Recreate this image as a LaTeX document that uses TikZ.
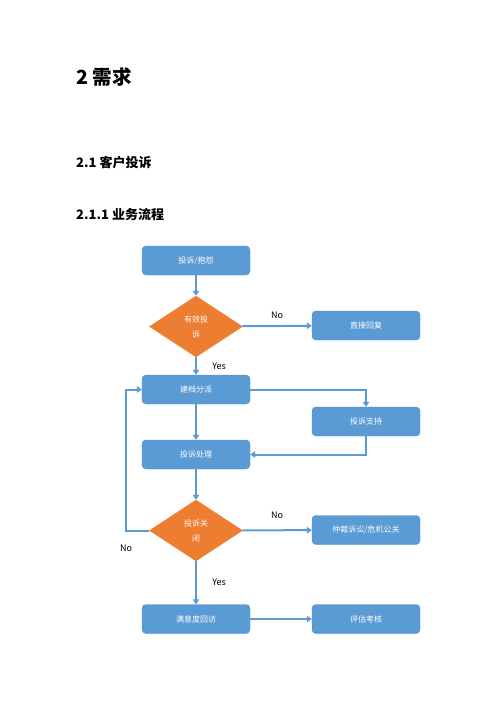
\documentclass[tikz,border=0pt]{standalone}
\usepackage{fontspec}
\setmainfont{Noto Sans CJK SC}
\usepackage{xcolor}
\usetikzlibrary{arrows.meta, positioning, shapes.geometric}

\definecolor{boxblue}{HTML}{5B9BD5}
\definecolor{boxedge}{HTML}{4F8CC4}
\definecolor{diaorange}{HTML}{ED7D31}

\begin{document}
\begin{tikzpicture}[x=1pt, y=-1pt,
    box/.style={draw=boxedge, fill=boxblue, rounded corners=4pt, minimum width=108pt, minimum height=29pt, text=white, font=\fontsize{8}{10}\selectfont},
    decision/.style={diamond, draw=diaorange, fill=diaorange, minimum width=93pt, minimum height=61pt, inner sep=0pt, text=white, align=center, font=\fontsize{8}{15}\selectfont},
    flow/.style={->, draw=boxblue, line width=2pt},
    lbl/.style={font=\fontsize{9}{10}\selectfont, text=black},
    >={Triangle[length=5pt, width=6.5pt]}]
      \useasboundingbox (0,0) rectangle (500,706);

      % headings
      \node[anchor=west, inner sep=0pt, font=\fontsize{19.5}{22}\selectfont\bfseries] (h1) at (76,77) {2 需求};
      \node[anchor=west, inner sep=0pt, font=\fontsize{13}{16}\selectfont\bfseries] (h2) at (76,163) {2.1 客户投诉};
      \node[anchor=west, inner sep=0pt, font=\fontsize{13}{16}\selectfont\bfseries] (h3) at (76,215) {2.1.1 业务流程};

      % flow chart
      \node[box] (b1) at (196,260.5) {投诉/抱怨};
      \node[decision] (d1) at (196,326.5) {有效投\\诉};
      \node[box] (b2) at (366,325.5) {直接回复};
      \node[box] (b3) at (196,389.5) {建档分派};
      \node[box] (b4) at (366,421.5) {投诉支持};
      \node[box] (b5) at (196,454.5) {投诉处理};
      \node[decision] (d2) at (196,530.5) {投诉关\\闭};
      \node[box] (b6) at (366,530) {仲裁诉讼/危机公关};
      \node[box] (b7) at (196,619) {满意度回访};
      \node[box] (b8) at (366,619) {评估考核};
      \coordinate (c1) at (126,530.5);

      \draw[flow] (b1) -- (d1);
      \draw[flow] (d1) -- node[lbl, above=3pt] {No} (b2);
      \draw[flow] (d1) -- node[lbl, right=12pt] {Yes} (b3);
      \draw[flow] (b3.east) -| (b4.north);
      \draw[flow] (b4.south) |- (b5.east);
      \draw[flow] (b3) -- (b5);
      \draw[flow] (b5) -- (d2);
      \draw[flow] (d2) -- node[lbl, above=7pt] {No} (b6);
      \draw[flow] (d2.west) -- (c1) node[lbl, below=10pt] {No} |- (b3.west);
      \draw[flow] (d2) -- node[lbl, right=12pt] {Yes} (b7);
      \draw[flow] (b7) -- (b8);
    \end{tikzpicture}
\end{document}
